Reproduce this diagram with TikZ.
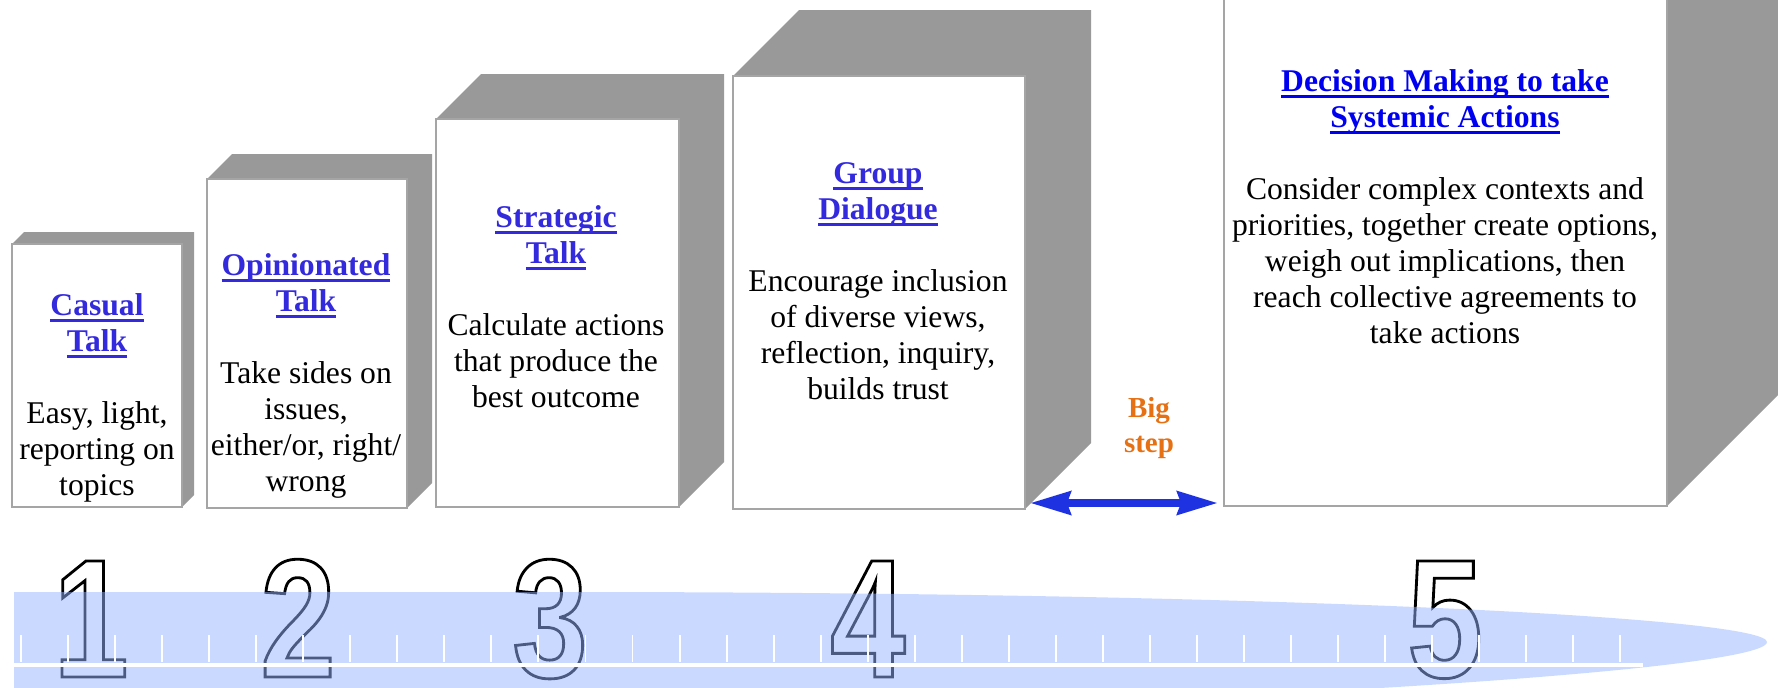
\documentclass[tikz,border=0pt]{standalone}
\usepackage{fontspec}
\setmainfont{Liberation Serif}
\newfontfamily\numfont{Liberation Sans}[FakeStretch=0.8]
\usetikzlibrary{arrows.meta}
\definecolor{sidegray}{RGB}{153,153,153}
\definecolor{edgegray}{RGB}{165,165,165}
\definecolor{titleblue}{RGB}{51,41,221}
\definecolor{linkblue}{RGB}{0,0,240}
\definecolor{stepor}{RGB}{230,112,20}
\definecolor{arrowblue}{RGB}{30,50,225}
\definecolor{bandblue}{RGB}{150,180,255}
\newcommand{\ttl}[2][titleblue]{{\bfseries\color{#1}\setbox0\hbox{#2}\rlap{\rule[-3.7pt]{\wd0}{1.8pt}}\box0}}
\newcommand{\outl}[1]{\special{pdf:literal direct 1 Tr 1.6 w}#1\special{pdf:literal direct 0 Tr}}
\newcommand{\stagebox}[5]{%
	\fill[sidegray] (#1,#2) -- ++(#5,-#5) -- ({#3+#5},{#2-#5}) -- ({#3+#5},{#4-#5}) -- (#3,#4) -- cycle;
	\filldraw[frontface] (#1,#2) rectangle (#3,#4);}
\begin{document}
\begin{tikzpicture}[x=0.02cm,y=-0.02cm,
	frontface/.style={fill=white,draw=edgegray,line width=0.6pt},
	stagetext/.style={align=center,inner sep=0pt,anchor=north,font=\fontsize{18}{20.5}\selectfont},
	numeral/.style={anchor=base,inner sep=0pt,font=\numfont\bfseries\fontsize{96}{96}\selectfont},
	bigstep/.style={draw=arrowblue,line width=4.5pt,{Stealth[length=23pt,width=13pt,inset=2pt]}-{Stealth[length=23pt,width=13pt,inset=2pt]}}]
	\clip (0,0) rectangle (1778,687);
	\stagebox{12}{244}{182}{507}{12}
	\stagebox{207}{179}{407}{508}{25}
	\stagebox{436}{119}{679}{507}{45}
	\stagebox{733}{76}{1025}{509}{66}
	\stagebox{1224}{-40}{1667}{506}{125}
	\node (T1) at (97,293)		[stagetext]	{\ttl{Casual}\\\ttl{Talk}\\[20.5pt]Easy, light,\\reporting on\\topics};
	\node (T2) at (306,253)		[stagetext]	{\ttl{Opinionated}\\\ttl{Talk}\\[20.5pt]Take sides on\\issues,\\either/or, right/\\wrong};
	\node (T3) at (556,205)		[stagetext]	{\ttl{Strategic}\\\ttl{Talk}\\[20.5pt]Calculate actions\\that produce the\\best outcome};
	\node (T4) at (878,162)		[stagetext]	{\ttl{Group}\\\ttl{Dialogue}\\[20.5pt]Encourage inclusion\\of diverse views,\\reflection, inquiry,\\builds trust};
	\node (T5) at (1445,69)		[stagetext]	{\ttl[linkblue]{Decision Making to take}\\\ttl[linkblue]{Systemic Actions}\\[20.5pt]Consider complex contexts and\\priorities, together create options,\\weigh out implications, then\\reach collective agreements to\\take actions};
	\node (BS) at (1149,397)	[anchor=north,align=center,inner sep=0pt,text=stepor,font=\bfseries\fontsize{16.5}{20}\selectfont]	{Big\\step};
	\coordinate (L4) at (1030,503);
	\coordinate (L5) at (1218,503);
	\draw[bigstep] (L4) -- (L5);
	\node (N1) at (91,677)		[numeral]	{\outl{1}};
	\node (N2) at (298,677)		[numeral]	{\outl{2}};
	\node (N3) at (550,677)		[numeral]	{\outl{3}};
	\node (N4) at (868,677)		[numeral]	{\outl{4}};
	\node (N5) at (1445,677)	[numeral]	{\outl{5}};
	\fill[bandblue,fill opacity=0.5] (14,592) -- (600,592) .. controls (1300,593) and (1767,618) .. (1767,642) .. controls (1767,662) and (1500,683) .. (1250,695) -- (14,700) -- cycle;
	\foreach \i in {0,...,34}
		\draw[white,line width=1.1pt] ({21+47.04*\i},635) -- ({21+47.04*\i},662);
	\draw[white,line width=2.8pt] (14,665) -- (1643,665);
\end{tikzpicture}
\end{document}
